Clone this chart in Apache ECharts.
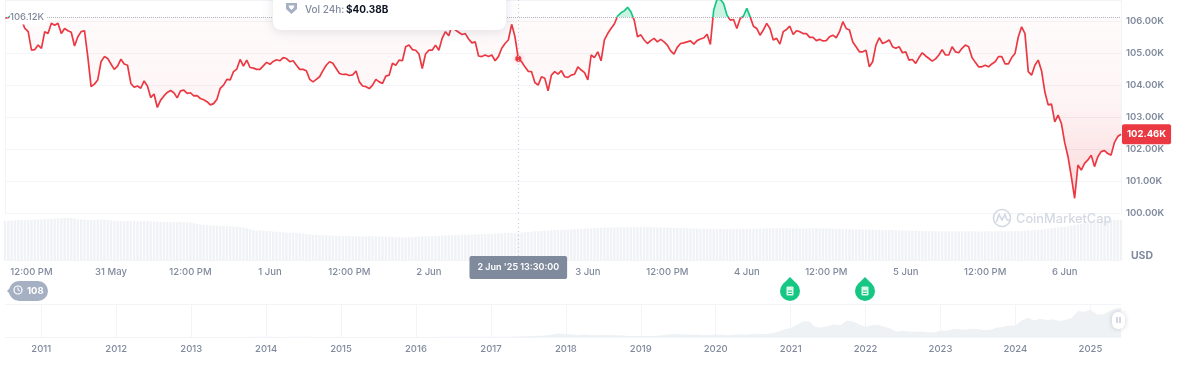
<!DOCTYPE html>
<html>
<head>
<meta charset="utf-8">
<title>Bitcoin price chart</title>
<style>
	html, body { margin: 0; padding: 0; background: #fff; }
	#chart { width: 1187px; height: 377px; }
</style>
<script src="https://cdn.jsdelivr.net/npm/echarts@6/dist/echarts.min.js"></script>
</head>
<body>
<div id="chart"></div>
<script>
// price in thousands of USD, one value every 30 minutes from 30 May 08:00
const price_values = [
	106.10,106.11,106.19,106.16,106.11,106.03,105.77,105.67,105.09,105.11,
	105.25,105.15,105.67,105.61,105.93,105.87,105.93,105.61,105.77,105.70,
	105.65,105.22,105.51,105.67,105.70,104.89,103.95,104.03,104.16,104.73,
	104.89,104.83,104.66,104.49,104.59,104.81,104.66,104.62,104.05,103.93,
	103.97,103.90,104.13,103.97,103.61,103.72,103.30,103.53,103.66,103.77,
	103.83,103.76,103.60,103.82,103.84,103.74,103.76,103.66,103.67,103.58,
	103.54,103.48,103.38,103.42,103.56,103.90,104.00,104.18,104.16,104.42,
	104.50,104.80,104.59,104.78,104.55,104.53,104.49,104.49,104.60,104.71,
	104.65,104.74,104.79,104.76,104.86,104.83,104.73,104.76,104.62,104.49,
	104.49,104.45,104.18,104.10,104.18,104.26,104.45,104.62,104.73,104.68,
	104.52,104.36,104.33,104.34,104.30,104.32,104.44,104.10,103.97,103.95,
	103.89,104.00,104.18,104.10,104.05,104.28,104.31,104.68,104.62,104.78,
	104.76,105.20,105.25,105.11,105.09,104.97,104.52,104.97,105.09,105.09,
	105.25,105.09,105.46,105.67,105.54,105.87,105.72,105.65,105.58,105.61,
	105.44,105.32,105.35,104.91,104.89,104.94,104.89,104.94,104.76,104.89,
	105.15,105.30,105.41,105.90,105.51,104.82,104.73,104.57,104.43,104.42,
	104.08,104.00,104.26,104.21,103.82,104.31,104.42,104.34,104.45,104.26,
	104.24,104.31,104.34,104.57,104.47,104.39,104.16,104.94,104.86,105.04,
	104.76,105.41,105.61,105.77,105.91,106.16,106.26,106.32,106.43,106.29,
	106.03,105.51,105.57,105.41,105.30,105.39,105.46,105.35,105.43,105.35,
	105.25,105.07,104.97,105.18,105.30,105.32,105.35,105.38,105.28,105.39,
	105.44,105.47,105.59,105.27,106.34,106.68,106.68,106.55,106.19,106.03,
	106.05,105.77,106.08,106.16,106.40,106.14,105.84,105.77,105.56,105.72,
	105.93,105.77,105.41,105.46,105.28,105.67,105.74,105.84,105.58,105.70,
	105.67,105.61,105.61,105.49,105.49,105.39,105.43,105.38,105.39,105.51,
	105.56,105.48,105.67,105.98,105.77,105.72,105.35,105.20,105.04,105.04,
	105.09,104.57,104.73,105.25,105.48,105.30,105.35,105.41,105.20,105.15,
	105.20,105.01,105.04,104.78,104.80,104.68,104.86,105.01,104.91,104.83,
	104.75,104.82,104.94,105.11,104.94,104.94,105.20,105.04,105.01,105.15,
	105.25,105.20,104.86,104.71,104.57,104.57,104.62,104.57,104.66,104.73,
	104.89,104.89,104.66,104.66,104.86,104.99,105.51,105.82,105.61,104.42,
	104.31,104.62,104.78,104.45,103.79,103.38,103.41,102.85,103.06,102.80,
	102.20,101.76,101.14,100.46,101.50,101.34,101.55,101.66,101.81,101.45,
	101.76,101.92,101.95,101.86,101.81,102.20,102.39,102.46
];
// 24h volume in billions of USD, same time steps
const volume_values = [
	58.0,58.1,58.3,58.4,58.6,58.9,59.0,59.3,59.4,59.6,
	59.7,60.0,60.4,60.8,61.0,61.3,61.6,61.9,62.1,62.3,
	62.0,61.2,60.2,59.9,59.5,59.2,59.0,59.3,59.6,59.8,
	59.6,59.2,58.6,58.1,57.6,57.4,57.3,57.5,57.6,57.4,
	57.3,57.2,57.3,57.4,57.2,56.9,56.7,56.5,56.2,56.1,
	56.0,56.1,56.0,55.9,55.8,55.7,55.5,54.5,53.4,52.3,
	51.9,51.6,51.3,51.0,50.8,50.4,50.2,50.0,49.8,49.6,
	49.2,48.6,47.8,46.8,45.6,44.2,43.6,43.4,43.2,43.0,
	42.6,42.0,41.6,41.2,40.9,40.6,40.4,40.2,40.0,39.6,
	39.0,38.4,37.8,37.2,37.0,36.8,36.6,36.4,36.2,35.9,
	35.6,35.4,35.2,35.1,35.2,35.0,35.1,35.0,34.9,35.0,
	35.1,35.0,34.9,34.8,34.8,34.7,34.5,34.2,33.9,33.6,
	33.5,33.4,33.6,33.9,34.2,34.6,35.0,35.1,35.0,35.2,
	35.5,35.8,36.0,36.2,36.5,36.8,37.1,37.2,37.4,37.5,
	37.6,37.6,37.8,38.0,38.2,38.4,38.6,38.8,39.0,39.3,
	39.5,39.7,40.0,40.2,40.3,40.38,40.6,41.0,41.4,41.8,
	42.2,42.5,42.9,43.3,43.6,44.0,44.2,44.4,44.6,44.8,
	45.0,45.3,45.6,45.9,46.2,46.5,46.7,46.9,47.0,47.2,
	47.5,47.8,48.0,48.1,48.2,48.3,48.3,48.4,48.3,48.3,
	48.4,48.5,48.6,48.6,48.5,48.4,48.3,48.2,48.0,47.9,
	47.8,47.6,47.5,47.4,47.2,47.0,46.9,46.7,46.5,46.4,
	46.3,46.2,46.1,46.0,45.9,45.9,45.8,45.8,45.7,45.8,
	45.9,46.0,46.1,46.2,46.3,46.2,46.2,46.4,46.5,46.6,
	46.7,46.8,46.9,47.0,47.0,46.9,46.9,46.8,46.8,46.7,
	46.6,46.7,46.8,46.8,46.9,46.8,46.7,46.7,46.6,46.5,
	46.4,46.3,46.1,45.9,45.7,45.6,45.5,45.3,45.1,45.0,
	44.9,44.8,44.7,44.6,44.5,44.4,44.3,44.2,44.2,44.1,
	44.0,43.8,43.6,43.4,43.3,43.1,43.0,42.9,42.8,42.7,
	42.6,42.5,42.4,42.4,42.3,42.3,42.2,42.2,42.3,42.3,
	42.4,42.4,42.3,42.3,42.2,42.3,42.4,42.4,42.3,42.4,
	42.4,42.4,42.5,42.5,42.6,42.6,42.8,43.2,43.5,43.8,
	43.9,44.2,44.6,45.0,45.6,46.2,46.8,47.4,48.0,48.6,
	49.0,49.8,50.6,51.6,52.6,53.6,54.4,55.0,55.5,55.8,
	56.4,57.0,57.6,58.2,58.8,59.2,59.5,59.6
];
// overview, monthly price in thousands of USD from Jul 2010
const history_values = [
	0.07,0.06,0.06,0.19,0.21,0.3,
	0.3,0.9,0.8,3,8,17,14,9,5,3,3,4,
	6,5,5,5,5,6,9,10,12,11,12,13,
	20,33,90,140,130,100,100,130,130,190,800,750,
	850,560,450,440,630,640,590,480,390,340,380,320,
	220,250,245,235,230,260,285,230,235,315,380,430,
	370,435,415,450,530,640,625,570,610,700,745,960
].map(function (v) { return v / 1000; }).concat([
	0.97,1.19,1.07,1.35,2.3,2.5,2.9,4.7,4.3,6.4,9.9,14.2,
	10.2,10.3,6.9,9.2,7.5,6.4,7.7,7.0,6.6,6.3,4.0,3.7,
	3.4,3.8,4.1,5.3,8.6,10.8,10.1,9.6,8.3,9.2,7.6,7.2,
	9.4,8.6,6.4,8.6,9.5,9.1,11.3,11.7,10.8,13.8,19.7,29.0,
	33,45,58,57,37,35,41,47,43,61,57,46,
	38,43,45,38,31.8,19.9,23.3,20,19.4,20.5,17.2,16.5,
	23,23.5,28.5,29.2,27.2,30.5,29.2,26,27,34.5,37.7,42.3,
	42.5,61,71,60.6,67.5,62.7,66,59,63.3,70.2,96.4,93.4,
	102,84.4,82.5,94.2,104.6,107
]);
const day_names = ['30 May', '31 May', '1 Jun', '2 Jun', '3 Jun', '4 Jun', '5 Jun', '6 Jun'];
const base_price = 106.12;
const selected_time = '2 Jun 13:30';

const RED = '#ea3943';
const GREEN = '#16c784';
const GRAY = '#808a9d';
const LINE_GRAY = '#f2f4f7';
const FONT = 'Inter, sans-serif';

// main chart geometry: y axis runs off the top of the picture
const main_top = 0;
const main_height = 213;
const y_min = 100;
const y_max = 106.66;
const base_stop = (y_max - base_price) / (y_max - y_min);

let time_categories = price_values.map(function (v, i) {
	let hours = 8 + i / 2;
	let day = day_names[Math.floor(hours / 24)];
	let h = Math.floor(hours % 24);
	return day + ' ' + (h < 10 ? '0' : '') + h + (i % 2 ? ':30' : ':00');
});
let history_data = history_values.map(function (v, i) {
	let m = 6 + i;
	let year = 2010 + Math.floor(m / 12);
	return [Date.UTC(year, m % 12, 1), v];
});

function price_gradient(above, below) {
	return {
		type: 'linear', x: 0, y: main_top, x2: 0, y2: main_top + main_height, global: true,
		colorStops: [
			{ offset: 0, color: above },
			{ offset: base_stop, color: above }
		].concat(below)
	};
}

function pin(cx) {
	return {
		type: 'group', x: cx, y: 291, silent: true,
		children: [
			{ type: 'circle', shape: { cx: 0, cy: 0, r: 10 }, style: { fill: GREEN } },
			{ type: 'polygon', shape: { points: [[0, -14], [7, -7], [-7, -7]] }, style: { fill: GREEN } },
			{ type: 'rect', shape: { x: -3.5, y: -4.5, width: 7, height: 9, r: 1 }, style: { fill: '#d9f6ea' } },
			{ type: 'rect', shape: { x: -2, y: -0.5, width: 4, height: 1 }, style: { fill: GREEN } },
			{ type: 'rect', shape: { x: -2, y: 2, width: 4, height: 1 }, style: { fill: GREEN } }
		]
	};
}

let chart = echarts.init(document.getElementById('chart'), null, { renderer: 'canvas' });
chart.setOption({
	animation: false,
	textStyle: { fontFamily: FONT },
	grid: [
		{ left: 5, right: 66, top: main_top, height: main_height },
		{ left: 5, right: 66, top: 217, height: 43 },
		{ left: 5, right: 66, top: 304, height: 33 }
	],
	xAxis: [
		{
			type: 'category', gridIndex: 0, data: time_categories, boundaryGap: false,
			axisLine: { show: false }, axisTick: { show: false }, axisLabel: { show: false },
			axisPointer: { show: true, status: 'show', value: selected_time, triggerTooltip: false, label: { show: false },
				lineStyle: { color: '#c4cad6', type: [1, 3], width: 1 } }
		},
		{
			type: 'category', gridIndex: 1, data: time_categories, boundaryGap: false,
			axisLine: { lineStyle: { color: LINE_GRAY } }, axisTick: { show: false },
			axisLabel: {
				color: GRAY, fontSize: 9.5, fontWeight: 500, margin: 7, hideOverlap: false,
				interval: function (i) { return i % 24 === 8; },
				formatter: function (value) {
					return value.slice(-5) === '12:00' ? '12:00 PM' : value.slice(0, -6);
				}
			},
			axisPointer: {
				show: true, status: 'show', value: selected_time, triggerTooltip: false,
				lineStyle: { color: '#c4cad6', type: [1, 3], width: 1 },
				label: {
					show: true, formatter: "2 Jun '25 13:30:00", margin: -4,
					backgroundColor: GRAY, color: '#fff', fontSize: 9, fontWeight: 600,
					fontFamily: FONT, padding: [7, 8, 7, 8], borderRadius: 2
				}
			}
		},
		{
			type: 'time', gridIndex: 2,
			min: Date.UTC(2010, 6, 8), max: Date.UTC(2025, 4, 30),
			minInterval: 365 * 86400000, maxInterval: 366 * 86400000,
			splitLine: { show: true, showMinLine: false, showMaxLine: false, lineStyle: { color: LINE_GRAY } },
			axisLine: { lineStyle: { color: LINE_GRAY } }, axisTick: { show: false },
			axisLabel: {
				color: GRAY, fontSize: 9.5, fontWeight: 500, margin: 7, showMinLabel: false, showMaxLabel: false,
				formatter: function (value) { return String(new Date(value).getUTCFullYear()); }
			}
		}
	],
	yAxis: [
		{
			type: 'value', gridIndex: 0, position: 'right', min: y_min, max: y_max, interval: 1,
			axisLine: { show: true, lineStyle: { color: LINE_GRAY } }, axisTick: { show: false },
			splitLine: { lineStyle: { color: LINE_GRAY } },
			axisLabel: {
				color: GRAY, fontSize: 9.5, fontWeight: 600, margin: 5, showMaxLabel: false, padding: [2, 0, 0, 0],
				formatter: function (v) { return v.toFixed(2) + 'K'; }
			}
		},
		{ type: 'value', gridIndex: 1, min: 0, max: 63.5, show: false },
		{
			type: 'value', gridIndex: 2, min: 0, max: 122, interval: 122, show: true, position: 'right',
			axisLabel: { show: false }, axisTick: { show: false }, axisLine: { show: false },
			splitLine: { show: true, lineStyle: { color: LINE_GRAY } }
		}
	],
	series: [
		{
			type: 'bar', name: 'Vol 24h', xAxisIndex: 1, yAxisIndex: 1, data: volume_values,
			barWidth: 2.4, itemStyle: { color: '#f0f2f5' }, silent: true, z: 1
		},
		{
			type: 'line', name: 'Price', xAxisIndex: 0, yAxisIndex: 0, data: price_values,
			showSymbol: false, symbol: 'none', smooth: false, silent: true, z: 3,
			lineStyle: { width: 1.7, color: price_gradient(GREEN, [{ offset: base_stop, color: RED }, { offset: 1, color: RED }]) },
			areaStyle: {
				origin: base_price,
				color: price_gradient('rgba(22,199,132,0.32)', [
					{ offset: base_stop, color: 'rgba(234,57,67,0.03)' },
					{ offset: 0.45, color: 'rgba(234,57,67,0.07)' },
					{ offset: 1, color: 'rgba(234,57,67,0.3)' }
				])
			},
			endLabel: {
				show: true, formatter: '102.46K', distance: 1,
				backgroundColor: RED, color: '#fff', fontSize: 9.5, fontWeight: 700, fontFamily: FONT,
				padding: [5, 5, 5, 5], borderRadius: 2
			},
			markLine: {
				silent: true, symbol: 'none', animation: false,
				lineStyle: { color: '#aeb4bf', type: 'dotted', width: 1 },
				data: [{ yAxis: base_price }],
				label: { show: false }
			},
			markPoint: {
				silent: true, animation: false, symbol: 'circle', symbolSize: 6,
				itemStyle: { color: RED, shadowBlur: 4, shadowColor: 'rgba(234,57,67,0.5)' },
				label: { show: false },
				data: [{ coord: [selected_time, price_values[time_categories.indexOf(selected_time)]] }]
			}
		},
		{
			type: 'line', name: 'History', xAxisIndex: 2, yAxisIndex: 2, data: history_data,
			showSymbol: false, symbol: 'none', silent: true,
			lineStyle: { width: 0 }, areaStyle: { color: '#eff2f5', opacity: 1 }
		}
	],
	graphic: [
		// left edge of the price pane
		{ type: 'line', silent: true, shape: { x1: 5.5, y1: 0, x2: 5.5, y2: 213 }, style: { stroke: LINE_GRAY, lineWidth: 1 } },
		// baseline label
		{ type: 'text', x: 10, y: 17.5, silent: true, z: 6, style: { text: '106.12K', font: '500 9.5px ' + FONT, fill: GRAY, verticalAlign: 'middle', backgroundColor: '#fff', padding: [2, 3, 2, 0] } },
		// watermark
		{ type: 'circle', shape: { cx: 1002, cy: 218, r: 8.5 }, style: { fill: 'none', stroke: '#d3d9e4', lineWidth: 1.6 }, silent: true, z: 5 },
		{ type: 'polyline', shape: { points: [[996.5, 222], [999, 214.5], [1002, 220], [1005, 214.5], [1007, 220], [1010, 220]] }, style: { fill: 'none', stroke: '#d3d9e4', lineWidth: 1.6 }, silent: true, z: 5 },
		{ type: 'text', x: 1016, y: 219, silent: true, z: 5, style: { text: 'CoinMarketCap', font: '500 12.8px ' + FONT, fill: '#d3d9e4', verticalAlign: 'middle' } },
		// currency
		{ type: 'text', x: 1142, y: 256, silent: true, z: 5, style: { text: 'USD', font: '700 10.5px ' + FONT, fill: GRAY, align: 'center', verticalAlign: 'middle' } },
		// hover card, cut off by the top edge
		{
			type: 'rect', silent: true, z: 10,
			shape: { x: 273, y: -20, width: 233, height: 50, r: 8 },
			style: { fill: '#fff', shadowBlur: 12, shadowColor: 'rgba(88,102,126,0.18)', shadowOffsetY: 2 }
		},
		{ type: 'polygon', silent: true, z: 11, shape: { points: [[286, 3], [297, 3], [297, 9], [291.5, 14], [286, 9]] }, style: { fill: '#a6b0c3' } },
		{ type: 'polygon', silent: true, z: 12, shape: { points: [[288.5, 5.5], [294.5, 5.5], [293.5, 8], [291.5, 10], [289.5, 8]] }, style: { fill: '#fff' } },
		{ type: 'text', x: 305, y: 10, silent: true, z: 11, style: { text: 'Vol 24h:', font: '500 10px ' + FONT, fill: GRAY, verticalAlign: 'middle' } },
		{ type: 'text', x: 346, y: 10, silent: true, z: 11, style: { text: '$40.38B', font: '700 10px ' + FONT, fill: '#0d1421', verticalAlign: 'middle' } },
		// event pins
		pin(790),
		pin(865),
		// event count badge
		{ type: 'polygon', silent: true, z: 5, shape: { points: [[7, 291], [13, 285], [13, 297]] }, style: { fill: '#a6b0c3' } },
		{ type: 'rect', silent: true, z: 5, shape: { x: 9, y: 281, width: 39, height: 20, r: 10 }, style: { fill: '#a6b0c3' } },
		{ type: 'circle', silent: true, z: 6, shape: { cx: 18, cy: 290, r: 4 }, style: { fill: 'none', stroke: '#fff', lineWidth: 1.2 } },
		{ type: 'polyline', silent: true, z: 6, shape: { points: [[18, 287.5], [18, 290], [20, 291]] }, style: { fill: 'none', stroke: '#fff', lineWidth: 1 } },
		{ type: 'text', x: 27, y: 291, silent: true, z: 6, style: { text: '108', font: '700 9.5px ' + FONT, fill: '#fff', verticalAlign: 'middle' } },
		// range handle
		{
			type: 'rect', silent: true, z: 6,
			shape: { x: 1112, y: 312, width: 13, height: 17, r: 6 },
			style: { fill: '#fff', shadowBlur: 5, shadowColor: 'rgba(88,102,126,0.3)' }
		},
		{ type: 'rect', silent: true, z: 7, shape: { x: 1116.5, y: 317, width: 1, height: 6 }, style: { fill: '#a6b0c3' } },
		{ type: 'rect', silent: true, z: 7, shape: { x: 1119.5, y: 317, width: 1, height: 6 }, style: { fill: '#a6b0c3' } }
	]
});
</script>
</body>
</html>
